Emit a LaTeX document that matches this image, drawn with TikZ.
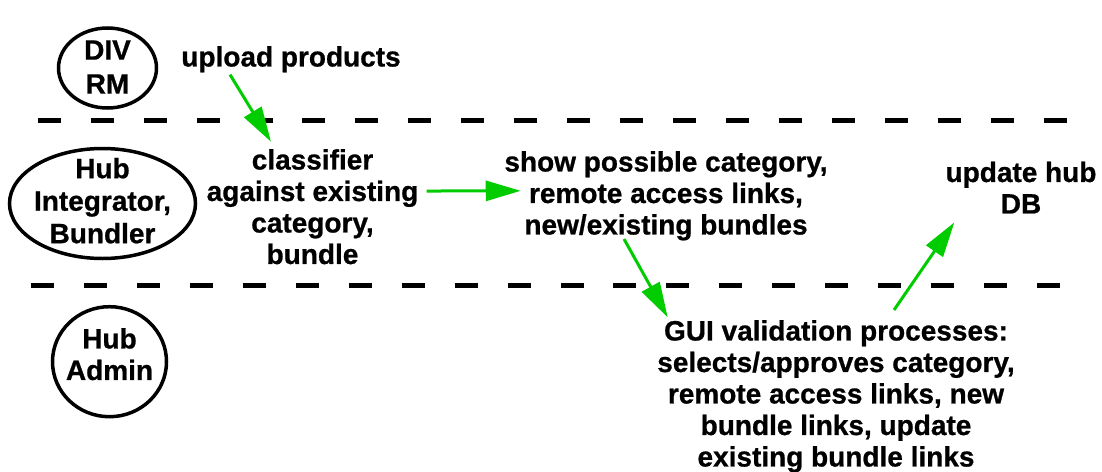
\documentclass[tikz,border=0pt]{standalone}
\usepackage{fontspec}
\setmainfont{Liberation Sans}[BoldFeatures={FakeBold=0.8}]
\usetikzlibrary{arrows.meta,shapes.geometric}
\definecolor{flowgreen}{RGB}{0,204,0}
\begin{document}
\begin{tikzpicture}[x=1pt,y=-1pt,
  lbl/.style={font=\bfseries\fontsize{28}{31.5}\selectfont, align=center, inner sep=0pt},
  actor/.style={ellipse, draw, line width=3.5pt, inner sep=0pt},
  lane/.style={line width=5pt, dash pattern=on 23pt off 29.95pt},
  flow/.style={draw=flowgreen, line width=3pt, -{Triangle[length=35pt,width=20pt]}}
]
\useasboundingbox (0,0) rectangle (1102,471);

% swimlane separators
\draw[lane] (37.7,120.7) -- (1066.7,120.7);
\draw[lane] (31,285) -- (1060.7,285);

% actors
\node[actor, minimum width=98pt, minimum height=80pt] (divrm) at (107.5,68) {};
\node[lbl, font=\bfseries\fontsize{28}{34}\selectfont] (divrmtext) at ([yshift=1pt]divrm.center) {DIV\\RM};
\node[actor, minimum width=186pt, minimum height=110pt] (hubint) at (102.5,203.5) {};
\node[lbl, font=\bfseries\fontsize{28}{32.5}\selectfont] (hubinttext) at ([yshift=2.8pt]hubint.center) {Hub\\Integrator,\\Bundler};
\node[actor, minimum width=114pt, minimum height=110pt] (hubadmin) at (109.5,361.7) {};
\node[lbl] (hubadmintext) at ([yshift=7.5pt]hubadmin.center) {Hub\\Admin};

% process steps
\node[lbl, anchor=north] (upload) at (291,46) {upload products};
\node[lbl, anchor=north] (classifier) at (312.5,149) {classifier\\against existing\\category,\\bundle};
\node[lbl, anchor=north] (show) at (666,151) {show possible category,\\remote access links,\\new/existing bundles};
\node[lbl, anchor=north] (update) at (1021,161.5) {update hub\\DB};
\node[lbl, anchor=north] (gui) at (836,320) {GUI validation processes:\\selects/approves category,\\remote access links, new\\bundle links, update\\existing bundle links};

% flow
\draw[flow] ([xshift=-61pt,yshift=-2.1pt]upload.south) -- ([xshift=-41.5pt,yshift=7.3pt]classifier.north);
\draw[flow] ([xshift=8pt,yshift=15.7pt]classifier.east) -- ([xshift=16.5pt,yshift=5pt]show.west);
\draw[flow] ([xshift=-42pt,yshift=1.6pt]show.south) -- ([xshift=-168.3pt,yshift=2.7pt]gui.north);
\draw[flow] ([xshift=58pt,yshift=10pt]gui.north) -- ([xshift=-66.7pt,yshift=-8.7pt]update.south);
\end{tikzpicture}
\end{document}
